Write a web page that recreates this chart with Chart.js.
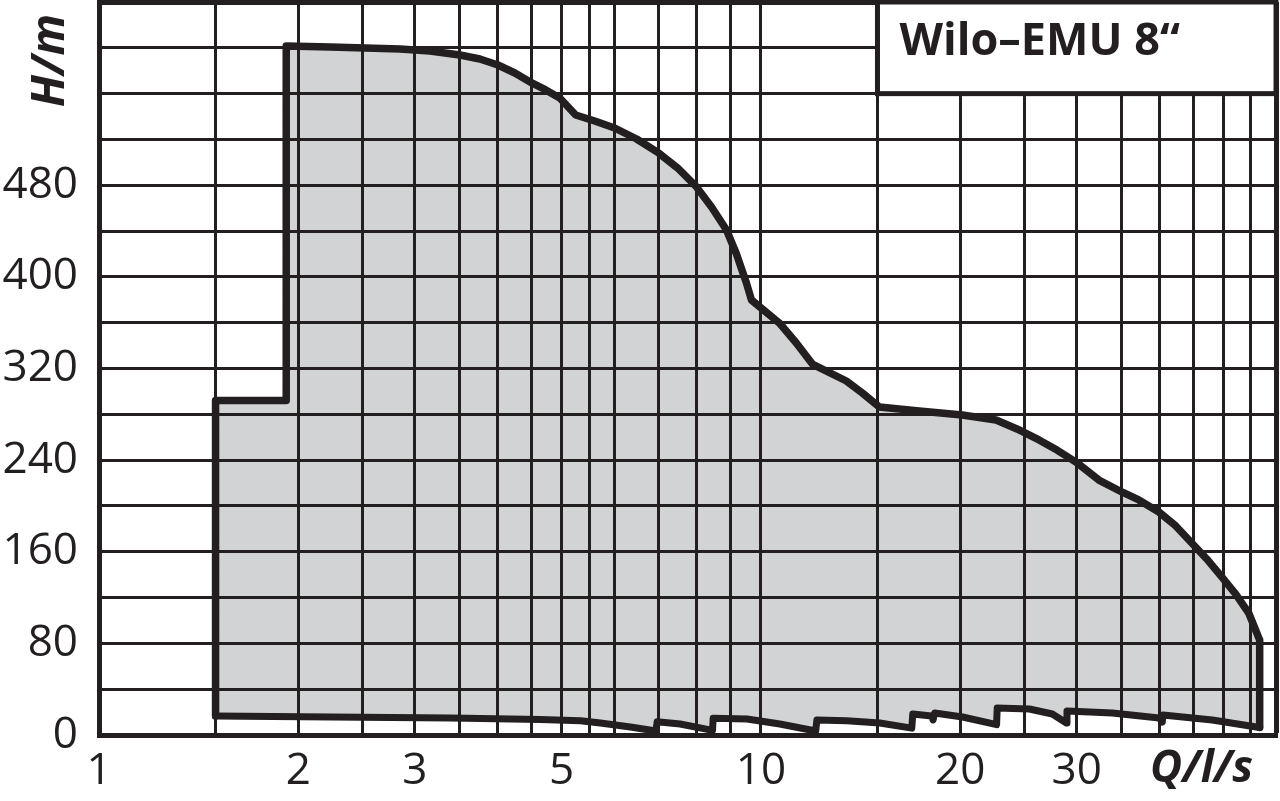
<!DOCTYPE html>
<html><head><meta charset="utf-8">
<script src="https://cdn.jsdelivr.net/npm/chart.js@4/dist/chart.umd.min.js"></script>
<style>html,body{margin:0;padding:0;background:#fff;overflow:hidden}#wrap{width:1280px;height:801px}</style>
</head><body><div id="wrap"><canvas id="c" width="1280" height="801"></canvas></div>
<script>
const chartTitle = 'Wilo\u2013EMU 8\u201C';
const xAxisTitle = 'Q/l/s';
const yAxisTitle = 'H/m';

// upper boundary of the operating range (Q in l/s, H in m)
const upperQ = [1.5, 1.5, 1.918, 1.918, 2.235, 2.85, 3.162, 3.51, 3.762, 4.005, 4.249, 4.507, 4.731, 4.967, 5.25, 5.609, 6.012, 6.489, 7.004, 7.483, 7.993, 8.421, 8.872, 9.184, 9.508, 9.676, 10.664, 11.31, 11.96, 13.46, 14.23, 15.09, 17.34, 20.14, 22.66, 24.37, 26.31, 28.01, 29.92, 32.4, 35.09, 37.23, 39.92, 42.34, 44.76, 47.15, 49.68, 52.16, 54.57, 56.69, 56.69];
const upperH = [16.6, 292, 292, 601.6, 600.7, 599.0, 597.2, 593.7, 590.2, 585.0, 578.0, 569.3, 563.2, 556.2, 541.3, 536.1, 530.0, 520.4, 508.2, 495.1, 478.5, 461.0, 440.9, 420.0, 394.7, 379.8, 359.7, 342.3, 323.9, 309.1, 298.6, 286.4, 282.9, 279.4, 275.0, 267.2, 257.6, 248.8, 238.3, 222.6, 212.2, 205.2, 194.7, 182.5, 167.6, 153.7, 138.0, 123.1, 106.5, 82.9, 6.5];

// lower boundary (sawtooth)
const lowerQ = [1.5, 2.24, 3.4, 4.64, 5.34, 5.72, 6.35, 6.94, 6.97, 7.55, 8.45, 8.47, 9.53, 10.68, 12.1, 12.15, 13.48, 15.12, 16.9, 16.96, 18.1, 18.2, 18.3, 20.17, 22.7, 22.75, 25.45, 27.56, 28.94, 29.0, 33.95, 39.98, 40.4, 40.5, 48.07, 56.69];
const lowerH = [16.6, 15.7, 14.8, 13.5, 12.5, 10.5, 7.0, 3.5, 11.5, 9.6, 4.0, 14.6, 14.0, 9.6, 3.5, 13.1, 12.5, 10.5, 6.0, 18.3, 16.6, 13.1, 19.2, 15.7, 9.0, 23.6, 22.7, 18.3, 10.5, 20.9, 19.2, 14.8, 11.3, 17.5, 13.1, 6.5];

const xGridValues = [1, 1.5, 2, 2.5, 3, 3.5, 4, 4.5, 5, 5.5, 6, 7, 8, 9, 10, 15, 20, 25, 30, 35, 40, 45, 50, 55, 60];
const xLabelValues = [1, 2, 3, 5, 10, 20, 30];
const yLabelValues = [0, 80, 160, 240, 320, 400, 480];

const INK = '#231f20';
const FILL = '#d1d3d4';
const toPts = (qs, hs) => qs.map((q, i) => ({x: q, y: hs[i]}));

const titleBox = {
  id: 'titleBox',
  afterDatasetsDraw(chart) {
    const {ctx, chartArea, scales} = chart;
    const left = scales.x.getPixelForValue(15);
    const bottom = scales.y.getPixelForValue(560);
    const top = chartArea.top, right = chartArea.right;
    ctx.save();
    ctx.fillStyle = '#fff';
    ctx.fillRect(left, top, right - left, bottom - top);
    ctx.lineWidth = 5;
    ctx.strokeStyle = INK;
    ctx.strokeRect(left, top, right - left, bottom - top);
    ctx.fillStyle = INK;
    ctx.font = 'bold 45px "Open Sans"';
    ctx.textBaseline = 'alphabetic';
    ctx.textAlign = 'left';
    ctx.fillText(chartTitle, left + 22, top + 53);
    ctx.restore();
  }
};

new Chart(document.getElementById('c'), {
  type: 'line',
  data: {
    datasets: [
      {
        label: 'lower',
        data: toPts(lowerQ, lowerH),
        borderColor: INK, borderWidth: 7, pointRadius: 0, tension: 0,
        borderJoinStyle: 'round', borderCapStyle: 'round',
        fill: 'origin', backgroundColor: '#ffffff'
      },
      {
        label: 'upper',
        data: toPts(upperQ, upperH),
        borderColor: INK, borderWidth: 7.5, pointRadius: 0, tension: 0,
        borderJoinStyle: 'round', borderCapStyle: 'round',
        fill: 'origin', backgroundColor: FILL
      }
    ]
  },
  options: {
    responsive: false,
    devicePixelRatio: 1,
    animation: false,
    layout: {padding: {top: 2, right: 4, left: 0, bottom: 0}},
    plugins: {
      legend: {display: false},
      tooltip: {enabled: false},
      filler: {drawTime: 'beforeDraw'}
    },
    scales: {
      x: {
        type: 'logarithmic',
        min: 1, max: 60,
        afterBuildTicks: s => { s.ticks = xGridValues.map(v => ({value: v})); },
        afterFit: s => { s.height = 66; s.paddingLeft = 0; s.paddingRight = 0; },
        grid: {
          color: INK,
          lineWidth: c => (c.tick && c.tick.value === 60) ? 5 : 3,
          drawTicks: false
        },
        border: {display: true, color: INK, width: 5},
        ticks: {
          autoSkip: false, maxRotation: 0, padding: 10,
          color: INK,
          font: {family: 'Open Sans', size: 44},
          callback: v => xLabelValues.includes(v) ? String(v) : ''
        },
        title: {
          display: true, text: xAxisTitle + '  ', align: 'end',
          color: INK,
          font: {family: 'Open Sans', size: 44, weight: 'bold', style: 'italic'},
          padding: {top: 0, bottom: 5}
        }
      },
      y: {
        type: 'linear',
        min: 0, max: 640,
        afterFit: s => { s.width = 99; s.paddingTop = 0; s.paddingBottom = 0; },
        grid: {
          color: INK,
          lineWidth: c => (c.tick && c.tick.value === 640) ? 5 : 3,
          drawTicks: false
        },
        border: {display: true, color: INK, width: 5},
        ticks: {
          stepSize: 40, autoSkip: false, padding: 21,
          color: INK,
          font: {family: 'Open Sans', size: 44},
          callback: v => yLabelValues.includes(v) ? String(v) : ''
        },
        title: {
          display: true, text: yAxisTitle + ' ', align: 'end',
          color: INK,
          font: {family: 'Open Sans', size: 46, weight: 'bold', style: 'italic'},
          padding: {top: 23, bottom: 0}
        }
      }
    }
  },
  plugins: [titleBox]
});
</script>
</body></html>
